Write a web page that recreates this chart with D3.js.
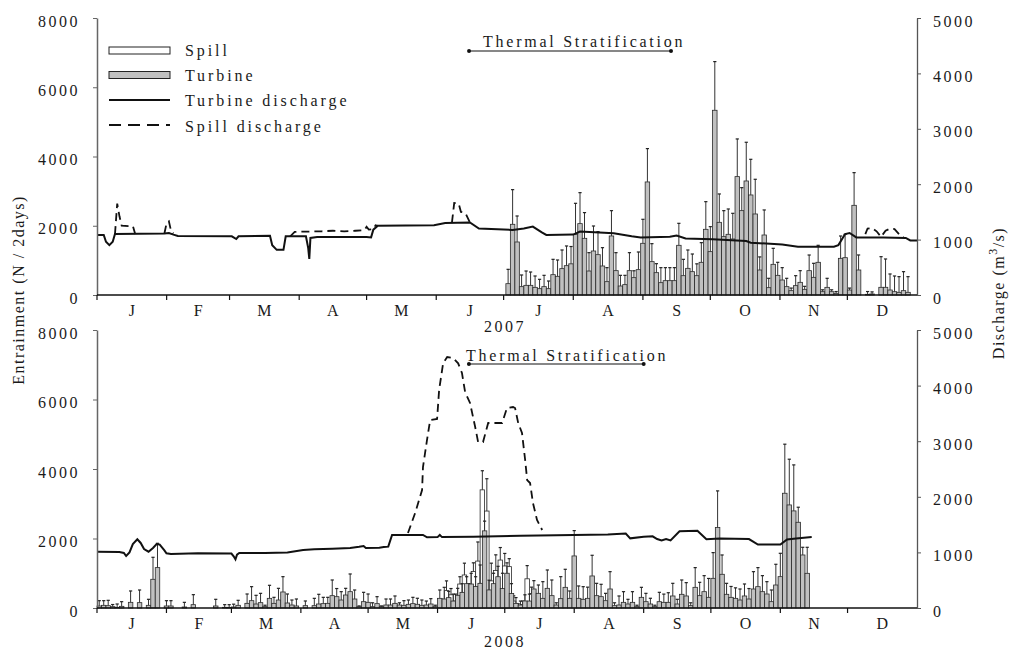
<!DOCTYPE html>
<html>
<head>
<meta charset="utf-8">
<script src="https://cdn.jsdelivr.net/npm/d3@7"></script>
<style>
  body { margin: 0; background: #fff; }
  text { font-family: "Liberation Serif", "Times New Roman", serif; fill: #1a1a1a; }
</style>
</head>
<body>
<svg id="chart" width="1011" height="650"></svg>
<script>
// ---------- data ----------
const months = ["J", "F", "M", "A", "M", "J", "J", "A", "S", "O", "N", "D"];
const entTicks = [0, 2000, 4000, 6000, 8000];
const qTicks = [0, 1000, 2000, 3000, 4000, 5000];
const legendItems = ["Spill", "Turbine", "Turbine discharge", "Spill discharge"];

// 2007 turbine entrainment, 2-day bins, first bin starts on day-of-year 182
const turb2007Start = 182;
const turb2007 = [
  327, 2042, 1531, 241, 279, 279, 221, 183, 241, 183,
  587, 539, 761, 847, 900, 1753, 2061, 1637, 693, 1271,
  1165, 838, 385, 1705, 703, 260, 299, 703, 501, 732,
  1493, 3265, 963, 645, 356, 414, 414, 414, 1435, 558,
  770, 674, 558, 944, 1897, 1252, 5335, 2099, 1685, 1753,
  1618, 3419, 2436, 3293, 2889, 2340, 722, 1733, 212, 886,
  568, 433, 241, 125, 270, 366, 164, 703, 510, 944,
  96, 221, 96, 48, 1059, 1078, 144, 2590, 722, 0,
  20, 30, 0, 222, 222, 144, 96, 77, 125, 77
];
const turb2007Err = [
  741, 3043, 2282, 578, 693, 664, 549, 453, 568, 404,
  1030, 1011, 1300, 1416, 1400, 2648, 2956, 2379, 1223, 1993,
  1830, 1367, 790, 2436, 1223, 568, 568, 1223, 700, 1242,
  2186, 4228, 1483, 905, 790, 790, 790, 790, 2070, 1030,
  1300, 1184, 900, 1512, 2696, 1974, 6741, 2918, 2436, 2484,
  2359, 4507, 3100, 4411, 3919, 3342, 1100, 2456, 482, 1348,
  944, 790, 482, 200, 558, 703, 250, 1155, 915, 1435,
  150, 482, 150, 100, 1704, 1752, 200, 3534, 1156, 0,
  100, 90, 0, 1107, 1040, 607, 549, 530, 674, 530
];

// 2008 turbine entrainment, 2-day bins from 1 January
const turb2008Start = 0;
const turb2008 = [
  58, 77, 67, 38, 19, 48, 0, 163, 0, 154,
  0, 77, 826, 1162, 0, 58, 58, 0, 0, 29,
  0, 96, 0, 0, 0, 0, 58, 0, 19, 19,
  29, 77, 0, 134, 211, 115, 154, 38, 278, 134,
  230, 461, 144, 86, 58, 0, 67, 0, 67, 115,
  125, 134, 355, 326, 230, 374, 470, 259, 38, 182,
  163, 38, 125, 38, 86, 86, 134, 86, 77, 106,
  125, 106, 77, 86, 115, 38, 278, 259, 298, 200,
  365, 450, 700, 690, 620, 710, 2220, 520, 700, 900,
  560, 1000, 420, 134, 86, 202, 200, 547, 422, 278,
  566, 355, 86, 269, 595, 278, 1498, 278, 250, 278,
  922, 355, 326, 211, 547, 67, 86, 163, 115, 163,
  38, 307, 182, 115, 38, 182, 163, 163, 346, 115,
  394, 346, 67, 595, 355, 470, 307, 854, 2314, 970,
  394, 307, 278, 230, 346, 259, 547, 614, 470, 403,
  182, 662, 902, 3302, 2966, 2794, 2467, 1526, 998
];
const turb2008Err = [
  211, 211, 221, 100, 115, 182, 0, 490, 0, 518,
  0, 250, 1459, 1862, 0, 211, 211, 0, 0, 163,
  0, 384, 0, 0, 0, 0, 250, 0, 96, 96,
  110, 221, 0, 403, 614, 365, 422, 80, 653, 307,
  566, 902, 403, 230, 259, 0, 202, 0, 278, 394,
  307, 307, 806, 560, 470, 566, 979, 518, 60, 451,
  403, 150, 326, 60, 259, 259, 346, 150, 211, 230,
  307, 280, 230, 200, 269, 80, 518, 595, 480, 400,
  566, 700, 900, 998, 900, 1238, 2500, 800, 1000, 1200,
  1000, 1300, 700, 300, 200, 380, 400, 787, 662, 758,
  1094, 806, 150, 902, 1114, 490, 2227, 634, 614, 600,
  1517, 710, 682, 422, 1046, 150, 346, 470, 250, 470,
  80, 595, 422, 280, 80, 451, 400, 440, 710, 250,
  806, 730, 150, 1162, 739, 931, 850, 1594, 3370, 1526,
  710, 620, 580, 547, 691, 560, 1046, 1162, 931, 758,
  518, 1258, 1574, 4714, 4282, 4118, 2900, 1747, 1747
];

// 2008 spill entrainment, 2-day bins from day-of-year 152
const spill2008Start = 152;
const spill2008 = [0, 120, 500, 380, 200, 690, 950, 420, 1050, 1350, 3400,
  2790, 780, 1080, 1380, 1210, 1190, 200, 60, 100, 840, 420];
const spill2008Err = [0, 250, 780, 560, 400, 900, 1290, 700, 1300, 1900, 3950,
  3720, 1290, 1530, 1740, 1570, 1420, 350, 120, 200, 1220, 600];

// discharge (m3/s) as [day-of-year, value]; null breaks the dashed line
const turbQ2007 = [[0,1083],[3,1083],[4,960],[5.5,900],[7,960],[8,1100],[30,1110],[32,1120],
  [34,1090],[36,1065],[60,1060],[62,1010],[63,1060],[77,1070],[78,900],[80,815],[83,815],
  [84,1060],[93,1060],[94,850],[94.5,650],[95,1030],[98,1045],[120,1045],[122,1040],
  [123,1180],[125,1250],[150,1260],[155,1300],[166,1310],[170,1200],[185,1175],[190,1200],
  [194,1235],[198,1130],[200,1085],[212,1090],[215,1145],[230,1115],[238,1060],[242,1040],
  [255,1050],[258,1075],[262,1020],[274,1005],[289,975],[291,945],[305,910],[312,872],
  [328,872],[330,900],[333,1100],[335,1120],[338,1040],[350,1040],[360,1030],[362,985],[365,985]];
const spillQ2007 = [[8,1100],[9,1650],[10,1420],[11,1250],[16,1240],[17,1100],[17,null],
  [30,1110],[31,1300],[32,1330],[33,1150],[34,1110],[34,null],
  [86,1060],[88,1140],[100,1150],[105,1160],[110,1150],[115,1160],[119,1170],[120,1230],
  [121,1180],[123,1190],[124,1260],[125,1250],[125,null],
  [158,1310],[159,1660],[161,1650],[162,1500],[164,1480],[166,1310],[166,null],
  [342,1100],[343,1200],[345,1210],[347,1150],[349,1050],[351,1160],[353,1200],
  [355,1190],[357,1100],[359,1040]];
const turbQ2008 = [[0,1013],[10,1005],[12,990],[13,935],[14.5,1000],[16,1150],[18,1235],
  [19.5,1170],[21,1060],[23,1013],[25,1080],[26.6,1151],[28,1140],[30,1040],[31,984],
  [33,973],[45,985],[60,980],[61,930],[61.8,876],[62.5,960],[63.5,990],[75,990],[85,1000],
  [92,1043],[97,1056],[105,1065],[113,1080],[117,1100],[119,1115],[120,1080],[126,1085],
  [128,1095],[130,1103],[131.7,1313],[145.5,1313],[147.3,1271],[152,1275],[153,1313],
  [154,1275],[168,1283],[189,1300],[205,1310],[228,1320],[236,1340],[238,1253],[244,1280],
  [248,1290],[250,1240],[252,1215],[254,1240],[256,1215],[260,1380],[268,1388],[272,1235],
  [278,1250],[291,1240],[295,1140],[305,1140],[308,1234],[312,1250],[319,1277]];
const spillQ2008 = [[138.8,1349],[142,1709],[145.1,2122],[145.5,2536],[147.3,3022],
  [148.7,3381],[151.8,3400],[152.7,3921],[154.5,4406],[156.3,4514],[158.9,4496],
  [161.2,4400],[162.9,4226],[164.3,3885],[166.5,3687],[168.8,3255],[170.1,2986],
  [172.3,2986],[174.6,3327],[176.8,3327],[180.8,3327],[183,3597],[185.7,3615],
  [186.6,3597],[188,3327],[189.7,3147],[191.1,2662],[192,2302],[193.3,2248],
  [194.6,1888],[196.4,1583],[198.7,1403]];

// thermal stratification period, day-of-year
const strat2007 = [165.6, 255.5];
const strat2008 = [166, 244];

// ---------- drawing ----------
const svg = d3.select("#chart");
const xL = 97, xR = 917;
const turbFill = "#c0c0c0";

function drawPanel(cfg) {
  const jan1 = new Date(cfg.year, 0, 1);
  const at = d => new Date(jan1.getTime() + d * 864e5);
  const x = d3.scaleTime().domain([jan1, new Date(cfg.year + 1, 0, 1)]).range([xL, xR]);
  const yE = d3.scaleLinear().domain([0, 8000]).range([cfg.base, cfg.top]);
  const yQ = d3.scaleLinear().domain([0, 5000]).range([cfg.base, cfg.top]);
  const g = svg.append("g");

  const bins = (vals, errs, start, shift) => vals
    .map((v, i) => ({ d: start + 2 * i + shift, v, e: errs[i] }))
    .filter(b => b.v > 0);

  function bars(data, fill) {
    const gb = g.append("g");
    gb.selectAll("rect").data(data).join("rect")
      .attr("x", b => x(at(b.d)))
      .attr("y", b => yE(b.v))
      .attr("width", b => x(at(b.d + 2)) - x(at(b.d)))
      .attr("height", b => cfg.base - yE(b.v))
      .attr("fill", fill)
      .attr("stroke", "#2a2a2a")
      .attr("stroke-width", 0.8);
    const eb = data.filter(b => b.e > b.v);
    gb.selectAll("line.err").data(eb).join("line")
      .attr("class", "err")
      .attr("x1", b => x(at(b.d + 1))).attr("x2", b => x(at(b.d + 1)))
      .attr("y1", b => yE(b.v)).attr("y2", b => yE(b.e))
      .attr("stroke", "#333").attr("stroke-width", 1);
    gb.selectAll("line.cap").data(eb).join("line")
      .attr("class", "cap")
      .attr("x1", b => x(at(b.d + 1)) - 1.6).attr("x2", b => x(at(b.d + 1)) + 1.6)
      .attr("y1", b => yE(b.e)).attr("y2", b => yE(b.e))
      .attr("stroke", "#222").attr("stroke-width", 1.2);
  }

  if (cfg.spill) bars(bins(cfg.spill, cfg.spillErr, cfg.spillStart, -1), "#fff");
  bars(bins(cfg.turb, cfg.turbErr, cfg.turbStart, 0), turbFill);

  const line = d3.line()
    .defined(d => d[1] != null)
    .x(d => x(at(d[0])))
    .y(d => yQ(d[1]));

  g.append("path").datum(cfg.qSpill).attr("d", line)
    .attr("fill", "none").attr("stroke", "#111").attr("stroke-width", 1.8)
    .attr("stroke-dasharray", "8,5");
  g.append("path").datum(cfg.qTurb).attr("d", line)
    .attr("fill", "none").attr("stroke", "#111").attr("stroke-width", 2);

  // left axis
  const ax = g.append("g").attr("transform", `translate(${xL},0)`)
    .call(d3.axisLeft(yE).tickValues(entTicks).tickSize(4).tickSizeOuter(0).tickPadding(13).tickFormat(d3.format("d")));
  ax.select(".domain").attr("stroke", "#666").attr("stroke-width", 1.5);
  ax.selectAll(".tick line").attr("stroke", "#666");
  ax.selectAll("text").attr("dy", "0.5em").style("font-size", "16px")
    .style("letter-spacing", "2.5px").attr("font-family", null);

  // right axis
  const ar = g.append("g").attr("transform", `translate(${xR},0)`)
    .call(d3.axisRight(yQ).tickValues(qTicks).tickSize(4).tickSizeOuter(0).tickPadding(12).tickFormat(d3.format("d")));
  ar.select(".domain").attr("stroke", "#555").attr("stroke-width", 1.3);
  ar.selectAll(".tick line").attr("stroke", "#555");
  ar.selectAll("text").attr("dy", "0.5em").style("font-size", "16px")
    .style("letter-spacing", "2.5px").attr("font-family", null);

  // time axis
  g.append("line").attr("x1", xL).attr("x2", xR).attr("y1", cfg.base).attr("y2", cfg.base)
    .attr("stroke", "#111").attr("stroke-width", 1.6);
  const mStarts = d3.timeMonth.range(jan1, new Date(cfg.year + 1, 0, 1));
  g.selectAll("line.mt").data(mStarts).join("line")
    .attr("class", "mt")
    .attr("x1", d => x(d)).attr("x2", d => x(d))
    .attr("y1", cfg.base).attr("y2", cfg.base + 5)
    .attr("stroke", "#111").attr("stroke-width", 1.2);
  g.selectAll("text.mlab").data(mStarts).join("text")
    .attr("class", "mlab")
    .attr("x", d => (x(d) + x(d3.timeMonth.offset(d, 1))) / 2)
    .attr("y", cfg.base + 21)
    .attr("text-anchor", "middle")
    .style("font-size", "16px")
    .text((d, i) => months[i]);

  g.append("text").attr("x", 505).attr("y", cfg.yearY)
    .attr("text-anchor", "middle").style("font-size", "16px").style("letter-spacing", "2.5px")
    .text(cfg.year);

  // thermal stratification marker
  const s = cfg.strat;
  g.append("line").attr("x1", x(at(s[0]))).attr("x2", x(at(s[1])))
    .attr("y1", cfg.stratY).attr("y2", cfg.stratY)
    .attr("stroke", "#111").attr("stroke-width", 1.2);
  g.selectAll("circle.sd").data(s).join("circle")
    .attr("class", "sd")
    .attr("cx", d => x(at(d))).attr("cy", cfg.stratY).attr("r", 2).attr("fill", "#111");
  g.append("text").attr("x", cfg.stratTextX).attr("y", cfg.stratY - cfg.stratGap)
    .style("font-size", "16px").style("letter-spacing", "2.75px")
    .text("Thermal Stratification");
}

drawPanel({
  year: 2007, top: 18, base: 295, yearY: 332,
  turb: turb2007, turbErr: turb2007Err, turbStart: turb2007Start,
  qTurb: turbQ2007, qSpill: spillQ2007,
  strat: strat2007, stratY: 51, stratGap: 4, stratTextX: 483
});
drawPanel({
  year: 2008, top: 330, base: 608, yearY: 647,
  turb: turb2008, turbErr: turb2008Err, turbStart: turb2008Start,
  spill: spill2008, spillErr: spill2008Err, spillStart: spill2008Start,
  qTurb: turbQ2008, qSpill: spillQ2008,
  strat: strat2008, stratY: 364, stratGap: 3, stratTextX: 466
});

// legend
const lg = svg.append("g");
lg.append("rect").attr("x", 109).attr("y", 47).attr("width", 61).attr("height", 7)
  .attr("fill", "#fff").attr("stroke", "#222").attr("stroke-width", 1);
lg.append("rect").attr("x", 109).attr("y", 71.5).attr("width", 61).attr("height", 7)
  .attr("fill", turbFill).attr("stroke", "#222").attr("stroke-width", 1);
lg.append("line").attr("x1", 109).attr("x2", 170).attr("y1", 100).attr("y2", 100)
  .attr("stroke", "#111").attr("stroke-width", 2);
lg.append("line").attr("x1", 109).attr("x2", 170).attr("y1", 125).attr("y2", 125)
  .attr("stroke", "#111").attr("stroke-width", 1.8).attr("stroke-dasharray", "12,7");
lg.selectAll("text").data(legendItems).join("text")
  .attr("x", 185).attr("y", (d, i) => 56 + i * 25.2)
  .style("font-size", "16px").style("letter-spacing", "2.9px")
  .text(d => d);

// axis titles
svg.append("text")
  .attr("transform", "translate(24,290) rotate(-90)")
  .attr("text-anchor", "middle").style("font-size", "16px").style("letter-spacing", "1.5px")
  .text("Entrainment (N / 2days)");
const rt = svg.append("text")
  .attr("transform", "translate(1004,293) rotate(-90)")
  .attr("text-anchor", "middle").style("font-size", "16px").style("letter-spacing", "1.5px");
rt.append("tspan").text("Discharge (m");
rt.append("tspan").attr("dy", -7).style("font-size", "12px").text("3");
rt.append("tspan").attr("dy", 7).text("/s)");
</script>
</body>
</html>
